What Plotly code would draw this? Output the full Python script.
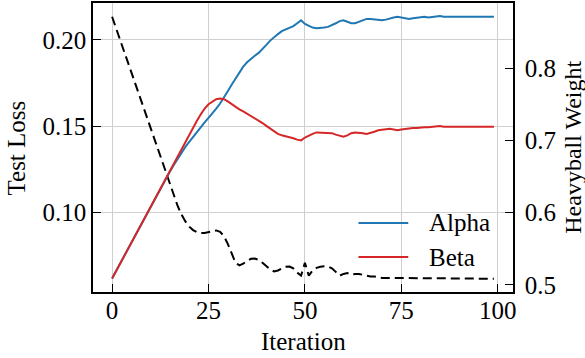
import plotly.graph_objects as go

iterations = list(range(100))

test_loss = [
    0.2135, 0.2070, 0.2005, 0.1940, 0.1875, 0.1810, 0.1745, 0.1680, 0.1615, 0.1550,
    0.1485, 0.1420, 0.1355, 0.1290, 0.1225, 0.1160, 0.1100, 0.1035, 0.0985, 0.0945,
    0.0915, 0.0895, 0.0883, 0.0878, 0.0878, 0.0882, 0.0888, 0.0893, 0.0885, 0.0860,
    0.0815, 0.0760, 0.0705, 0.0690, 0.0700, 0.0715, 0.0728, 0.0730, 0.0722, 0.0705,
    0.0685, 0.0665, 0.0655, 0.0660, 0.0672, 0.0682, 0.0683, 0.0672, 0.0648, 0.0630,
    0.0705, 0.0630, 0.0660, 0.0675, 0.0682, 0.0685, 0.0683, 0.0673, 0.0652, 0.0630,
    0.0640, 0.0645, 0.0635, 0.0640, 0.0640, 0.0635, 0.0630, 0.0625, 0.0625, 0.0620,
    0.0617, 0.0617, 0.0617, 0.0616, 0.0616, 0.0616, 0.0616, 0.0615, 0.0615, 0.0615,
    0.0615, 0.0615, 0.0615, 0.0614, 0.0614, 0.0614, 0.0614, 0.0614, 0.0614, 0.0613,
    0.0613, 0.0613, 0.0613, 0.0613, 0.0613, 0.0612, 0.0612, 0.0612, 0.0612, 0.0612,
]

alpha = [
    0.509, 0.519, 0.529, 0.539, 0.549, 0.559, 0.569, 0.579, 0.589, 0.599,
    0.609, 0.618, 0.628, 0.638, 0.648, 0.657, 0.666, 0.675, 0.683, 0.691,
    0.698, 0.705, 0.712, 0.719, 0.725, 0.731, 0.737, 0.744, 0.751, 0.759,
    0.768, 0.777, 0.786, 0.795, 0.802, 0.808, 0.813, 0.817, 0.821, 0.826,
    0.832, 0.838, 0.843, 0.847, 0.851, 0.853, 0.855, 0.858, 0.862, 0.866,
    0.861, 0.858, 0.856, 0.855, 0.855, 0.856, 0.857, 0.859, 0.862, 0.865,
    0.866, 0.864, 0.862, 0.862, 0.864, 0.867, 0.868, 0.868, 0.867, 0.866,
    0.866, 0.867, 0.869, 0.870, 0.871, 0.870, 0.869, 0.868, 0.869, 0.870,
    0.871, 0.871, 0.870, 0.871, 0.872, 0.872, 0.871, 0.871, 0.871, 0.872,
    0.872, 0.872, 0.871, 0.871, 0.872, 0.872, 0.871, 0.871, 0.871, 0.871,
]

beta = [
    0.509, 0.519, 0.529, 0.539, 0.549, 0.559, 0.569, 0.579, 0.589, 0.599,
    0.609, 0.618, 0.628, 0.638, 0.648, 0.658, 0.668, 0.678, 0.688, 0.698,
    0.708, 0.717, 0.727, 0.736, 0.744, 0.750, 0.754, 0.757, 0.758, 0.757,
    0.754, 0.750, 0.746, 0.743, 0.740, 0.737, 0.734, 0.731, 0.727, 0.724,
    0.720, 0.716, 0.712, 0.709, 0.707, 0.706, 0.705, 0.703, 0.701, 0.700,
    0.704, 0.707, 0.709, 0.711, 0.711, 0.711, 0.711, 0.710, 0.708, 0.706,
    0.705, 0.707, 0.710, 0.711, 0.711, 0.710, 0.709, 0.710, 0.712, 0.714,
    0.715, 0.716, 0.716, 0.715, 0.714, 0.715, 0.716, 0.717, 0.717, 0.717,
    0.718, 0.718, 0.718, 0.719, 0.720, 0.720, 0.719, 0.719, 0.719, 0.720,
    0.720, 0.719, 0.719, 0.719, 0.720, 0.720, 0.719, 0.719, 0.719, 0.719,
]

x_ticks = [0, 25, 50, 75, 100]
loss_ticks = [0.10, 0.15, 0.20]
weight_ticks = [0.5, 0.6, 0.7, 0.8]

series_names = ["Alpha", "Beta"]
series_colors = ["#1f77b4", "#d62728"]

FONT = "Liberation Serif"
FS = 25

fig = go.Figure()
fig.add_trace(go.Scatter(x=iterations, y=test_loss, mode="lines", name="Test Loss",
                         line=dict(color="black", width=2, dash="9px,5px"),
                         showlegend=False, yaxis="y"))
for name, vals, col in zip(series_names, [alpha, beta], series_colors):
    fig.add_trace(go.Scatter(x=iterations, y=vals, mode="lines", name=name,
                             line=dict(color=col, width=2), showlegend=False,
                             yaxis="y2"))

axis_common = dict(showline=True, linecolor="black", linewidth=1.6,
                   ticks="inside", ticklen=8, tickwidth=1.4, tickcolor="black",
                   automargin=False,
                   tickfont=dict(family=FONT, size=FS, color="black"))

fig.update_layout(
    template="none",
    width=585, height=358,
    margin=dict(l=93, r=72, t=3, b=66, autoexpand=False),
    paper_bgcolor="white", plot_bgcolor="white",
    font=dict(family=FONT, size=FS, color="black"),
    showlegend=False,
    xaxis=dict(range=[-4.95, 103.95], tickvals=x_ticks, ticktext=[str(v) for v in x_ticks],
               mirror=True, showgrid=True, gridcolor="#cfcfcf", gridwidth=1,
               zeroline=False, ticklabelstandoff=-5, **axis_common),
    yaxis=dict(range=[0.0535, 0.2215], tickvals=loss_ticks,
               ticktext=[f"{v:.2f}" for v in loss_ticks],
               mirror=True, showgrid=True, gridcolor="#cfcfcf", gridwidth=1,
               zeroline=False, ticklabelstandoff=0, **axis_common),
    yaxis2=dict(range=[0.4903, 0.89], tickvals=weight_ticks,
                ticktext=[f"{v:.1f}" for v in weight_ticks],
                overlaying="y", side="right", showgrid=False, zeroline=False,
                ticklabelstandoff=5, **axis_common),
)

# axis titles
fig.add_annotation(text="Iteration", xref="paper", yref="paper", x=0.5, y=-0.172,
                   xanchor="center", yanchor="middle", showarrow=False,
                   font=dict(family=FONT, size=FS))
fig.add_annotation(text="Test Loss", xref="paper", yref="paper", x=-0.181, y=0.5,
                   xanchor="center", yanchor="middle", textangle=-90, showarrow=False,
                   font=dict(family=FONT, size=FS))
fig.add_annotation(text="Heavyball Weight", xref="paper", yref="paper", x=1.141, y=0.5,
                   xanchor="center", yanchor="middle", textangle=-90, showarrow=False,
                   font=dict(family=FONT, size=24))

# legend
leg_y = [0.2388, 0.1211]
for name, col, ly in zip(series_names, series_colors, leg_y):
    fig.add_shape(type="line", xref="paper", yref="paper", x0=0.632, x1=0.7506,
                  y0=ly, y1=ly, line=dict(color=col, width=2))
    fig.add_annotation(text=name, xref="paper", yref="paper", x=0.7957, y=ly,
                       xanchor="left", yanchor="middle", showarrow=False,
                       font=dict(family=FONT, size=FS))

fig.write_html("out.html", config={"displayModeBar": False},
               post_script="document.body.style.margin='0';document.body.style.padding='0';")
